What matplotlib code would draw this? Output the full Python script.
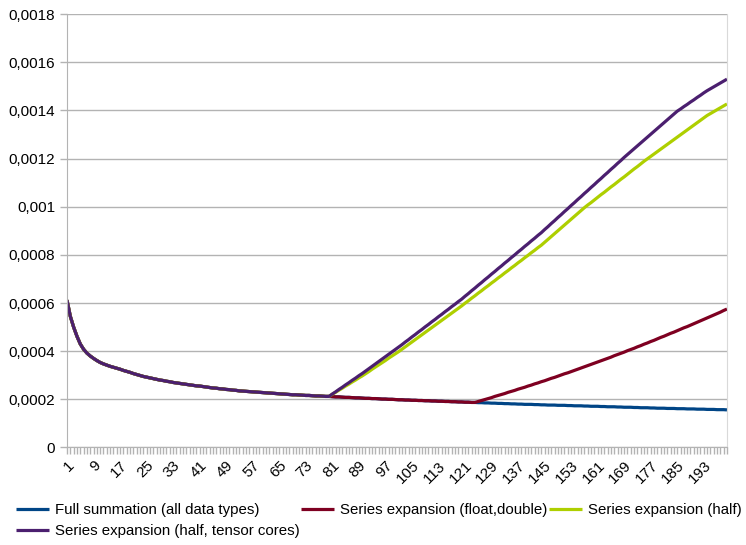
import numpy as np
import matplotlib
matplotlib.use("Agg")
import matplotlib.pyplot as plt

plt.rcParams['font.family'] = ['Liberation Sans', 'DejaVu Sans']

# categories 1..200 (x axis)
steps = list(range(1, 201))

# values, in units of 1e-4
full_sum = [
    6.12, 5.45, 5.00, 4.62, 4.30, 4.08, 3.92, 3.80, 3.70, 3.61,
    3.53, 3.47, 3.42, 3.37, 3.33, 3.29, 3.25, 3.20, 3.16, 3.12,
    3.07, 3.03, 2.99, 2.95, 2.92, 2.89, 2.86, 2.83, 2.80, 2.78,
    2.75, 2.73, 2.70, 2.68, 2.66, 2.64, 2.62, 2.60, 2.58, 2.56,
    2.55, 2.53, 2.51, 2.49, 2.47, 2.46, 2.44, 2.43, 2.41, 2.40,
    2.38, 2.37, 2.35, 2.34, 2.33, 2.32, 2.31, 2.30, 2.29, 2.28,
    2.27, 2.26, 2.25, 2.24, 2.23, 2.22, 2.21, 2.20, 2.19, 2.19,
    2.18, 2.17, 2.16, 2.16, 2.15, 2.14, 2.14, 2.13, 2.12, 2.12,
    2.11, 2.10, 2.10, 2.09, 2.08, 2.08, 2.07, 2.06, 2.06, 2.05,
    2.04, 2.04, 2.03, 2.03, 2.02, 2.01, 2.01, 2.00, 2.00, 1.99,
    1.98, 1.98, 1.97, 1.97, 1.96, 1.96, 1.95, 1.95, 1.94, 1.94,
    1.93, 1.93, 1.92, 1.92, 1.91, 1.91, 1.90, 1.90, 1.89, 1.89,
    1.88, 1.88, 1.87, 1.87, 1.86, 1.86, 1.85, 1.85, 1.84, 1.84,
    1.83, 1.83, 1.82, 1.82, 1.81, 1.81, 1.80, 1.80, 1.79, 1.79,
    1.79, 1.78, 1.78, 1.77, 1.77, 1.76, 1.76, 1.76, 1.75, 1.75,
    1.75, 1.74, 1.74, 1.73, 1.73, 1.73, 1.72, 1.72, 1.71, 1.71,
    1.71, 1.70, 1.70, 1.69, 1.69, 1.69, 1.68, 1.68, 1.67, 1.67,
    1.67, 1.66, 1.66, 1.65, 1.65, 1.65, 1.64, 1.64, 1.63, 1.63,
    1.63, 1.62, 1.62, 1.62, 1.61, 1.61, 1.61, 1.60, 1.60, 1.60,
    1.59, 1.59, 1.59, 1.58, 1.58, 1.58, 1.57, 1.57, 1.57, 1.56,
]

# float/double series leaves the full sum at step 124
float_start = 124
float_tail = [
    1.87, 1.91, 1.95, 1.99, 2.03, 2.07, 2.12, 2.16, 2.20, 2.24,
    2.29, 2.33, 2.37, 2.42, 2.46, 2.50, 2.55, 2.59, 2.64, 2.68,
    2.73, 2.77, 2.82, 2.87, 2.91, 2.96, 3.01, 3.06, 3.10, 3.15,
    3.20, 3.25, 3.30, 3.35, 3.40, 3.45, 3.50, 3.55, 3.60, 3.65,
    3.70, 3.75, 3.81, 3.86, 3.91, 3.96, 4.02, 4.07, 4.12, 4.18,
    4.23, 4.29, 4.34, 4.40, 4.45, 4.51, 4.57, 4.62, 4.68, 4.74,
    4.79, 4.85, 4.91, 4.97, 5.02, 5.08, 5.14, 5.20, 5.26, 5.32,
    5.38, 5.44, 5.50, 5.56, 5.62, 5.69, 5.75,
]

# half precision series leave the full sum at step 80
half_start = 80
half_tail = [
    2.12, 2.21, 2.29, 2.38, 2.46, 2.55, 2.63, 2.72, 2.80, 2.89,
    2.97, 3.06, 3.15, 3.25, 3.34, 3.43, 3.52, 3.61, 3.71, 3.80,
    3.89, 3.98, 4.08, 4.18, 4.28, 4.38, 4.48, 4.58, 4.68, 4.78,
    4.88, 4.98, 5.08, 5.18, 5.28, 5.38, 5.48, 5.58, 5.68, 5.78,
    5.88, 5.99, 6.09, 6.20, 6.30, 6.41, 6.51, 6.62, 6.72, 6.83,
    6.93, 7.04, 7.14, 7.25, 7.35, 7.46, 7.56, 7.67, 7.77, 7.88,
    7.98, 8.09, 8.19, 8.30, 8.40, 8.52, 8.64, 8.76, 8.88, 9.00,
    9.12, 9.24, 9.36, 9.48, 9.60, 9.72, 9.84, 9.96, 10.07, 10.17,
    10.28, 10.39, 10.50, 10.60, 10.71, 10.82, 10.92, 11.03, 11.14, 11.24,
    11.35, 11.46, 11.57, 11.67, 11.78, 11.89, 11.99, 12.09, 12.19, 12.29,
    12.39, 12.49, 12.59, 12.69, 12.79, 12.89, 12.99, 13.09, 13.19, 13.29,
    13.39, 13.49, 13.59, 13.69, 13.79, 13.87, 13.95, 14.03, 14.11, 14.19,
    14.27,
]
tensor_tail = [
    2.12, 2.22, 2.31, 2.41, 2.50, 2.60, 2.69, 2.79, 2.88, 2.98,
    3.07, 3.17, 3.27, 3.37, 3.47, 3.57, 3.67, 3.77, 3.87, 3.97,
    4.07, 4.17, 4.27, 4.38, 4.48, 4.59, 4.69, 4.80, 4.90, 5.01,
    5.11, 5.22, 5.32, 5.43, 5.53, 5.64, 5.74, 5.85, 5.95, 6.06,
    6.16, 6.28, 6.39, 6.51, 6.62, 6.74, 6.85, 6.97, 7.08, 7.20,
    7.31, 7.43, 7.54, 7.66, 7.77, 7.89, 8.00, 8.12, 8.23, 8.35,
    8.46, 8.58, 8.69, 8.81, 8.92, 9.05, 9.17, 9.30, 9.42, 9.55,
    9.67, 9.80, 9.92, 10.05, 10.17, 10.30, 10.42, 10.55, 10.67, 10.80,
    10.92, 11.05, 11.17, 11.30, 11.42, 11.55, 11.67, 11.80, 11.92, 12.05,
    12.17, 12.29, 12.41, 12.53, 12.65, 12.77, 12.89, 13.01, 13.13, 13.25,
    13.37, 13.49, 13.61, 13.73, 13.85, 13.97, 14.06, 14.16, 14.25, 14.35,
    14.44, 14.54, 14.63, 14.73, 14.82, 14.90, 14.98, 15.06, 15.14, 15.22,
    15.30,
]

series_names = [
    "Full summation (all data types)",
    "Series expansion (float,double)",
    "Series expansion (half)",
    "Series expansion (half, tensor cores)",
]
colors = ["#004586", "#7e0021", "#aecf00", "#4b1f6f"]

y_ticks = [0, 0.0002, 0.0004, 0.0006, 0.0008, 0.001, 0.0012, 0.0014, 0.0016, 0.0018]
y_labels = ["0", "0,0002", "0,0004", "0,0006", "0,0008", "0,001",
            "0,0012", "0,0014", "0,0016", "0,0018"]
x_labels = list(range(1, 200, 8))

# build the full series: shared part comes from the full summation
float_series = full_sum[:float_start - 1] + float_tail
half_series = full_sum[:half_start - 1] + half_tail
tensor_series = full_sum[:half_start - 1] + tensor_tail
all_series = [full_sum, float_series, half_series, tensor_series]

fig = plt.figure(figsize=(7.46, 5.45), dpi=100)
ax = fig.add_axes([0.0898, 0.179, 0.8847, 0.795])

handles = []
for vals, name, c in zip(all_series, series_names, colors):
    h, = ax.plot(steps, np.array(vals) * 1e-4, color=c, lw=2.3,
                 solid_capstyle='butt', label=name)
    handles.append(h)

ax.set_xlim(1, 200)
ax.set_ylim(0, 0.0018)
ax.set_yticks(y_ticks)
ax.set_yticklabels(y_labels)
ax.set_xticks(x_labels)
ax.set_xticklabels([str(v) for v in x_labels], rotation=45, ha='right',
                   va='top', rotation_mode='anchor')
ax.set_xticks(steps, minor=True)

ax.grid(axis='y', color='#b3b3b3', lw=1)
ax.set_axisbelow(True)
ax.tick_params(axis='both', which='both', colors='#b3b3b3', labelcolor='black',
               labelsize=11, length=5, width=1)
ax.tick_params(axis='x', which='both', direction='out', pad=3)
for side in ['left', 'bottom']:
    ax.spines[side].set_color('#b3b3b3')
ax.spines['right'].set_color('#d9d9d9')
ax.spines['top'].set_visible(False)

# legend in row order: matplotlib fills columns first
order = [0, 3, 1, 2]
fig.legend([handles[i] for i in order], [series_names[i] for i in order],
           loc='upper left', bbox_to_anchor=(0.021, 0.077), ncol=3,
           frameon=False, fontsize=10.8, handlelength=2.2, handletextpad=0.4,
           columnspacing=0.1, labelspacing=0.45, borderaxespad=0, borderpad=0)

fig.savefig("out.png", dpi=100)
